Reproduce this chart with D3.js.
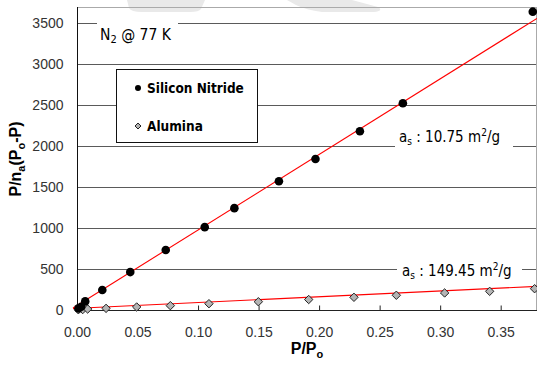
<!DOCTYPE html>
<html>
<head>
<meta charset="utf-8">
<script src="https://cdn.jsdelivr.net/npm/d3@7"></script>
<style>
  html, body { margin: 0; padding: 0; background: #fff; }
  svg { display: block; }
</style>
</head>
<body>
<svg id="chart" width="537" height="366"></svg>
<script>
// ---- data ----
const siNitrideX = [0.0012, 0.0035, 0.0068, 0.0209, 0.0440, 0.0733, 0.1055, 0.1300, 0.1668, 0.1970, 0.2337, 0.2692, 0.3765];
const siNitrideY = [20, 40, 105, 245, 463, 732, 1012, 1244, 1573, 1843, 2183, 2524, 3643];
const aluminaX = [0.0011, 0.0047, 0.0088, 0.0240, 0.0493, 0.0771, 0.1090, 0.1498, 0.1914, 0.2288, 0.2638, 0.3037, 0.3409, 0.3780];
const aluminaY = [3, 5, 12, 20, 37, 53, 77, 101, 128, 155, 180, 208, 228, 260];
const fitX = [-0.0033, 0.38];
const fitSiNitrideY = [24, 3561];
const fitAluminaY = [18, 289];
const xTicks = [0, 0.05, 0.10, 0.15, 0.20, 0.25, 0.30, 0.35];
const yTicks = [0, 500, 1000, 1500, 2000, 2500, 3000, 3500];
const seriesNames = ["Silicon Nitride", "Alumina"];

// ---- layout ----
const L = 77, R = 537, T = 7, B = 310;
const svg = d3.select("#chart");
const x = d3.scaleLinear().domain([0, 0.38]).range([L, R]);
const y = d3.scaleLinear().domain([0, 3700]).range([B, T]);

const diamondPath = h => `M0,${-h}L${h},0L0,${h}L${-h},0Z`;

// faint watermark swooshes at top
svg.append("path").attr("d", "M127,0 L205,0 L201,9 Q199,12 190,12 L142,12 Q131,12 129,8 Z").attr("fill", "#e9e9e9");
svg.append("path").attr("d", "M287,0 L352,0 L378,7 Q384,11 374,12 L322,12 Q306,10 296,5 Z").attr("fill", "#e9e9e9");

// horizontal grid lines
svg.append("g").selectAll("line").data(yTicks.filter(d => d > 0)).join("line")
  .attr("x1", L).attr("x2", R)
  .attr("y1", d => Math.round(y(d)) + 0.5).attr("y2", d => Math.round(y(d)) + 0.5)
  .attr("stroke", "#5a5a5a").attr("stroke-width", 1);

// top + right border
svg.append("line").attr("x1", L).attr("x2", R).attr("y1", T + 0.5).attr("y2", T + 0.5).attr("stroke", "#aaaaaa");
svg.append("line").attr("x1", R - 0.5).attr("x2", R - 0.5).attr("y1", T).attr("y2", B).attr("stroke", "#aaaaaa");

// annotation boxes (white, covering gridlines)
svg.append("rect").attr("x", 97).attr("y", 14).attr("width", 81).attr("height", 34).attr("fill", "#fff");
svg.append("rect").attr("x", 395).attr("y", 126).attr("width", 118).attr("height", 26).attr("fill", "#fff");
svg.append("rect").attr("x", 397).attr("y", 258).attr("width", 125).attr("height", 24).attr("fill", "#fff");

// fit lines
const line = d3.line().x(d => x(d[0])).y(d => y(d[1]));
svg.append("path").datum(fitX.map((v, i) => [v, fitSiNitrideY[i]]))
  .attr("d", line).attr("fill", "none").attr("stroke", "#ff0000").attr("stroke-width", 1.1);
svg.append("path").datum(fitX.map((v, i) => [v, fitAluminaY[i]]))
  .attr("d", line).attr("fill", "none").attr("stroke", "#ff0000").attr("stroke-width", 1.1);

// axes
const xAxis = d3.axisBottom(x).tickValues(xTicks).tickFormat(d3.format(".2f")).tickSize(-5).tickPadding(17);
const gx = svg.append("g").attr("transform", `translate(0,${B + 0.5})`).call(xAxis);
gx.select(".domain").attr("stroke", "#222").attr("d", `M${L},0H${R}`);
gx.selectAll(".tick line").attr("stroke", "#222");
gx.selectAll(".tick text").attr("font-family", "Liberation Sans, Arial, sans-serif").attr("font-size", 14).attr("fill", "#333");

const yAxis = d3.axisLeft(y).tickValues(yTicks).tickFormat(d3.format("d")).tickSize(0).tickPadding(14);
const gy = svg.append("g").attr("transform", `translate(${L + 0.5},0)`).call(yAxis);
gy.select(".domain").attr("stroke", "#111").attr("d", `M0,${T}V${B}`);
gy.selectAll(".tick text").attr("font-family", "Liberation Sans, Arial, sans-serif").attr("font-size", 14).attr("fill", "#333");

// points
svg.append("g").selectAll("path").data(aluminaX.map((v, i) => [v, aluminaY[i]])).join("path")
  .attr("transform", d => `translate(${x(d[0])},${y(d[1])})`)
  .attr("d", diamondPath(4.2))
  .attr("fill", "#b4b4b4").attr("stroke", "#222").attr("stroke-width", 1);
svg.append("g").selectAll("circle").data(siNitrideX.map((v, i) => [v, siNitrideY[i]])).join("circle")
  .attr("cx", d => x(d[0])).attr("cy", d => y(d[1])).attr("r", 4.3).attr("fill", "#000");

// legend
const lg = svg.append("g");
lg.append("rect").attr("x", 116.5).attr("y", 69.5).attr("width", 141).attr("height", 73).attr("fill", "#fff").attr("stroke", "#111");
lg.append("circle").attr("cx", 138).attr("cy", 88).attr("r", 3).attr("fill", "#000");
lg.append("path").attr("transform", "translate(138,126)").attr("d", diamondPath(3))
  .attr("fill", "#b4b4b4").attr("stroke", "#222");
const legFont = "DejaVu Sans Condensed, DejaVu Sans, sans-serif";
lg.append("text").attr("x", 147).attr("y", 93).text(seriesNames[0])
  .attr("font-family", legFont).attr("font-weight", "bold").attr("font-size", 13.5).attr("fill", "#000");
lg.append("text").attr("x", 147).attr("y", 131).text(seriesNames[1])
  .attr("font-family", legFont).attr("font-weight", "bold").attr("font-size", 13.5).attr("fill", "#000");

// annotations
const annFont = "DejaVu Sans Condensed, DejaVu Sans, sans-serif";
const n2 = svg.append("text").attr("x", 100).attr("y", 40).attr("font-family", annFont).attr("font-size", 15.5).attr("fill", "#000");
n2.append("tspan").text("N");
n2.append("tspan").attr("dy", 3).attr("font-size", 11).text("2");
n2.append("tspan").attr("dy", -3).text(" @ 77 K");

function areaLabel(x0, y0, val) {
  const t = svg.append("text").attr("x", x0).attr("y", y0).attr("font-family", annFont).attr("font-size", 15).attr("fill", "#000");
  t.append("tspan").text("a");
  t.append("tspan").attr("dy", 3).attr("font-size", 10).text("s");
  t.append("tspan").attr("dy", -3).text(" : " + val + " m");
  t.append("tspan").attr("dy", -6).attr("font-size", 10).text("2");
  t.append("tspan").attr("dy", 6).text("/g");
}
areaLabel(399, 142, "10.75");
areaLabel(402, 276, "149.45");

// axis titles
const titleFont = "Liberation Sans, Arial, sans-serif";
const xt = svg.append("text").attr("x", 307).attr("y", 354).attr("text-anchor", "middle")
  .attr("font-family", titleFont).attr("font-weight", "bold").attr("font-size", 16).attr("fill", "#000");
xt.append("tspan").text("P/P");
xt.append("tspan").attr("dy", 4).attr("font-size", 11).text("o");

const yt = svg.append("text").attr("transform", "translate(21,159) rotate(-90)").attr("text-anchor", "middle")
  .attr("font-family", titleFont).attr("font-weight", "bold").attr("font-size", 16).attr("fill", "#000");
yt.append("tspan").text("P/n");
yt.append("tspan").attr("dy", 4).attr("font-size", 11).text("a");
yt.append("tspan").attr("dy", -4).text("(P");
yt.append("tspan").attr("dy", 4).attr("font-size", 11).text("o");
yt.append("tspan").attr("dy", -4).text("-P)");
</script>
</body>
</html>
